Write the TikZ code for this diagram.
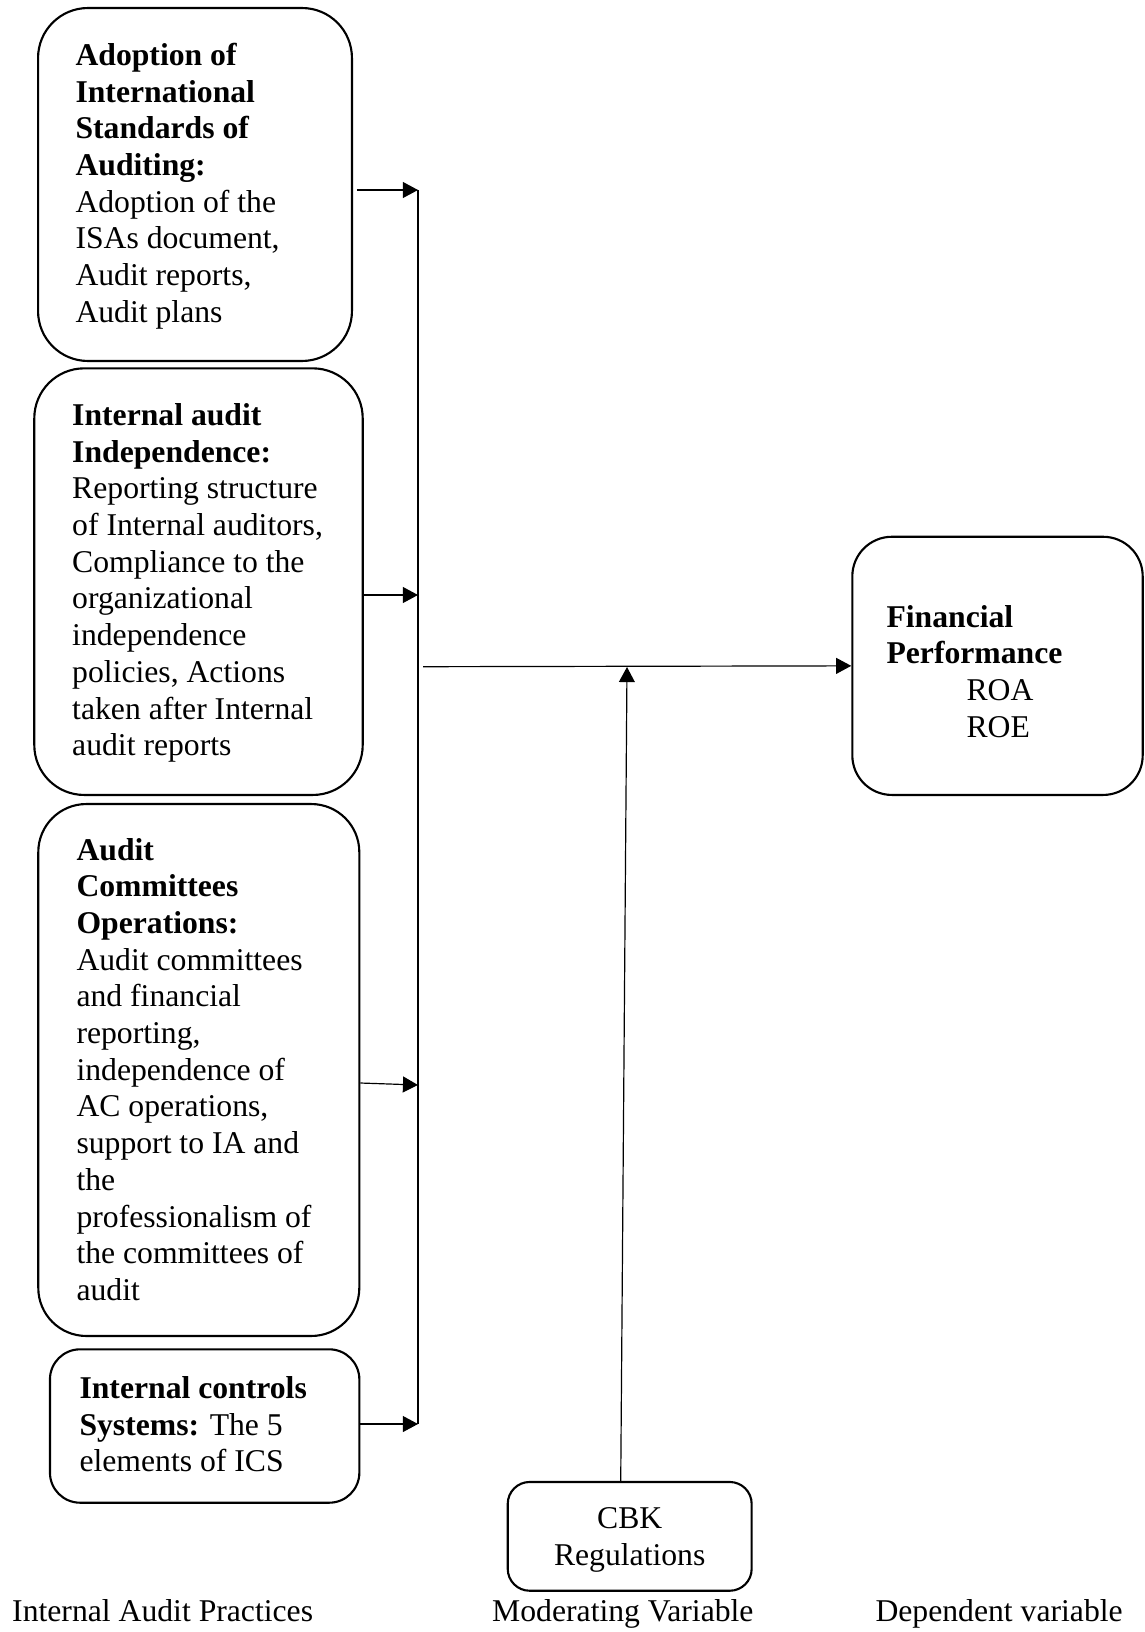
\documentclass[tikz,border=0pt]{standalone}
\usepackage{fontspec}
\setmainfont{Liberation Serif}
\usetikzlibrary{arrows.meta}
\tikzset{
  rbox/.style={draw=black, line width=0.8pt, rectangle, inner sep=0pt},
  txt/.style={inner sep=0pt, align=left, anchor=north west, font=\fontsize{12}{13.9}\selectfont},
  lbl/.style={inner sep=0pt, anchor=base west, font=\fontsize{12}{13.9}\selectfont},
  arr/.style={draw=black, line width=0.45pt, -{Triangle[length=5.7pt,width=6pt]}},
  bus/.style={draw=black, line width=0.55pt}
}
\begin{document}
\begin{tikzpicture}[x=0.3788pt, y=-0.3788pt]
\useasboundingbox (0,0) rectangle (1144,1632);

% boxes
\node[rbox, rounded corners=18.9pt, minimum width=118.9pt, minimum height=133.7pt] (isa) at (195,184.5) {};
\node[rbox, rounded corners=18.9pt, minimum width=124.4pt, minimum height=161.6pt] (iai) at (198.5,581.65) {};
\node[rbox, rounded corners=18.2pt, minimum width=121.6pt, minimum height=201.5pt] (aco) at (198.8,1070) {};
\node[rbox, rounded corners=11.4pt, minimum width=117.2pt, minimum height=58.1pt] (ics) at (204.65,1426) {};
\node[rbox, rounded corners=15pt, minimum width=110pt, minimum height=97.8pt] (fin) at (997.5,665.85) {};
\node[rbox, rounded corners=8.3pt, minimum width=92.4pt, minimum height=41.2pt] (cbk) at (629.7,1536.35) {};

% box texts
\node[txt] (isaT) at (75,39.3) {\strut\textbf{Adoption of}\\\textbf{International}\\\textbf{Standards of}\\\textbf{Auditing:}\\Adoption of the\\ISAs document,\\Audit reports,\\Audit plans};
\node[txt] (iaiT) at (71.7,399.3) {\strut\textbf{Internal audit}\\\textbf{Independence:}\\Reporting structure\\of Internal auditors,\\Compliance to the\\organizational\\independence\\policies, Actions\\taken after Internal\\audit reports};
\node[txt] (acoT) at (76,833.9) {\strut\textbf{Audit}\\\textbf{Committees}\\\textbf{Operations:}\\Audit committees\\and financial\\reporting,\\independence of\\AC operations,\\support to IA and\\the\\professionalism of\\the committees of\\audit};
\node[txt] (icsT) at (79,1372.3) {\strut\textbf{Internal controls}\\\textbf{Systems:} The 5\\elements of ICS};
\node[txt] (finT) at (886,601) {\strut\textbf{Financial}\\\textbf{Performance}\\\hspace*{30.3pt}ROA\\\hspace*{30.3pt}ROE};
\node[txt, anchor=north, align=center] (cbkT) at (629.7,1502.6) {\strut CBK\\Regulations};

% bottom labels
\node[lbl] (l1) at (11.7,1621.7) {Internal Audit Practices};
\node[lbl] (l2) at (491.7,1621.7) {Moderating Variable};
\node[lbl] (l3) at (875,1621.7) {Dependent variable};

% bus coordinates
\coordinate (b1) at (418,190);
\coordinate (b2) at (418,595);
\coordinate (b3) at (418,1085);
\coordinate (b4) at (418,1424);
\coordinate (a3) at (0,1083);
\coordinate (h0) at (423,666.7);
\coordinate (m) at (627,667);

\draw[bus] (b1) -- (b4);
\draw[arr] ([xshift=1.5pt]isa.east |- b1) -- (b1);
\draw[arr] (iai.east |- b2) -- (b2);
\draw[arr] (aco.east |- a3) -- (b3);
\draw[arr] (ics.east |- b4) -- (b4);
\draw[arr] (h0) -- (fin.west);
\draw[arr] ([xshift=-3.4pt]cbk.north) -- (m);
\end{tikzpicture}
\end{document}
